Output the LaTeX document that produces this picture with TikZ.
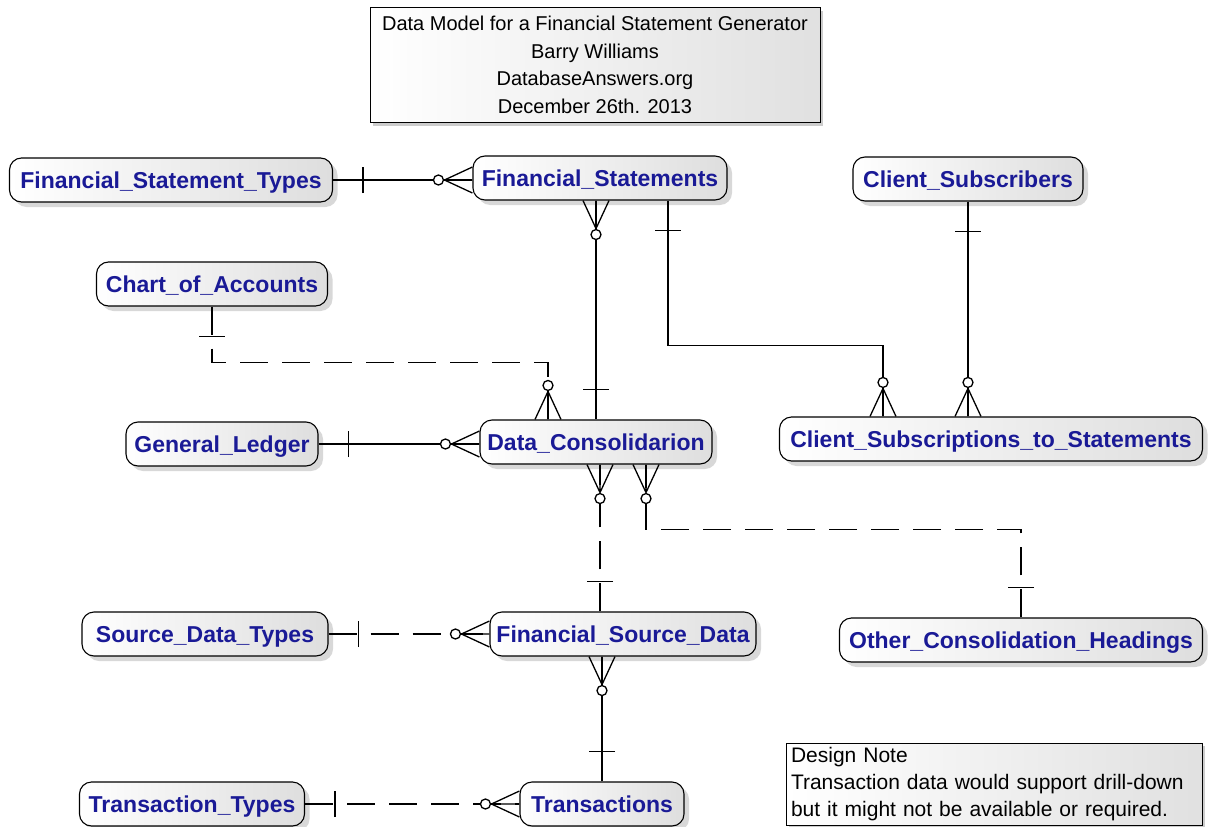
\documentclass[tikz,border=0pt]{standalone}
\usepackage{fontspec}
\setmainfont{Liberation Sans}
\usetikzlibrary{calc,shadows,decorations.markings}
\definecolor{entblue}{RGB}{26,26,150}
\begin{document}
\begin{tikzpicture}[x=1pt,y=-1pt]
    \tikzstyle{entity}=[draw, rounded corners=12pt, line width=1.1pt, left color=white, right color=black!13,
        drop shadow={shadow xshift=5pt, shadow yshift=-5pt, fill=black!30}, text=entblue,
        font=\bfseries\fontsize{23}{27}\selectfont, minimum height=44pt, inner sep=0pt,
        text height=20pt, text depth=3.5pt]
    \tikzstyle{memo}=[draw, line width=1pt, left color=white, right color=black!12,
        drop shadow={shadow xshift=3pt, shadow yshift=-3pt, fill=black!40}, inner sep=0pt]
    \tikzstyle{rel}=[line width=1.3pt]
    \tikzstyle{nonid}=[rel, dash pattern=on 28pt off 14pt]
    \tikzstyle{onebar}=[postaction={decorate, decoration={markings,
        mark=at position 30pt with {\draw[solid, line width=1.3pt] (0,-13pt) -- (0,13pt);}}}]
    \tikzstyle{crowfoot}=[postaction={decorate, decoration={markings,
        mark=at position 1 with {\draw[solid, line width=1.3pt] (0,13pt) -- (-28pt,0) -- (0,-13pt) (-29pt,0) -- (0,0);
            \draw[solid, line width=1.3pt, fill=white] (-34pt,0) circle (5pt);}}}]
    \useasboundingbox (0,0) rectangle (1208,827);

    % title and note
    \node[memo, minimum width=450pt, minimum height=115pt, align=center,
        font=\fontsize{20}{27.5}\selectfont] (title) at (595,65)
        {Data Model for a Financial Statement Generator\\Barry Williams\\DatabaseAnswers.org\\December 26th. 2013};
    \node[memo, minimum width=416pt, minimum height=82pt, text width=406pt, align=left,
        font=\fontsize{21}{27}\selectfont] (note) at (994,784)
        {Design Note\\Transaction data would support drill-down\\but it might not be available or required.};

    % entities
    \node[entity, minimum width=323pt] (fst) at (171,180) {Financial\_Statement\_Types};
    \node[entity, minimum width=254pt] (fs) at (600,178) {Financial\_Statements};
    \node[entity, minimum width=230pt] (cs) at (968,179) {Client\_Subscribers};
    \node[entity, minimum width=231pt] (coa) at (212,284) {Chart\_of\_Accounts};
    \node[entity, minimum width=192pt] (gl) at (222,444) {General\_Ledger};
    \node[entity, minimum width=232pt] (dc) at (596,442) {Data\_Consolidarion};
    \node[entity, minimum width=423pt] (csts) at (991,439) {Client\_Subscriptions\_to\_Statements};
    \node[entity, minimum width=246pt] (sdt) at (205,634) {Source\_Data\_Types};
    \node[entity, minimum width=266pt] (fsd) at (623,634) {Financial\_Source\_Data};
    \node[entity, minimum width=363pt] (och) at (1021,640) {Other\_Consolidation\_Headings};
    \node[entity, minimum width=225pt] (tt) at (192,804) {Transaction\_Types};
    \node[entity, minimum width=164pt] (tr) at (602,804) {Transactions};

    % relationships
    \draw[rel, onebar, crowfoot] (fst.east) -- (fst.east -| fs.west);
    \draw[rel, onebar, crowfoot] (dc.north) -- (dc.north |- fs.south);
    \draw[rel, onebar, crowfoot] ($(fs.south)+(68,0)$) -- ++(0,145) -| ($(csts.north)+(-108,0)$);
    \draw[rel, onebar, crowfoot] (cs.south) -- (cs.south |- csts.north);
    \draw[nonid, onebar, crowfoot] (coa.south) |- ($(dc.north)+(-48,-57)$) -- ($(dc.north)+(-48,0)$);
    \draw[rel, onebar, crowfoot] (gl.east) -- (gl.east -| dc.west);
    \draw[nonid, onebar, crowfoot] ($(fsd.north)+(-23,0)$) coordinate (fsdtop) -- (fsdtop |- dc.south);
    \draw[nonid, onebar, crowfoot] (och.north) -- ++(0,-88) -| ($(dc.south)+(50,0)$);
    \draw[nonid, onebar, crowfoot] (sdt.east) -- (fsd.west);
    \draw[rel, onebar, crowfoot] (tr.north) -- (tr.north |- fsd.south);
    \draw[nonid, onebar, crowfoot] (tt.east) -- (tr.west);
\end{tikzpicture}
\end{document}
